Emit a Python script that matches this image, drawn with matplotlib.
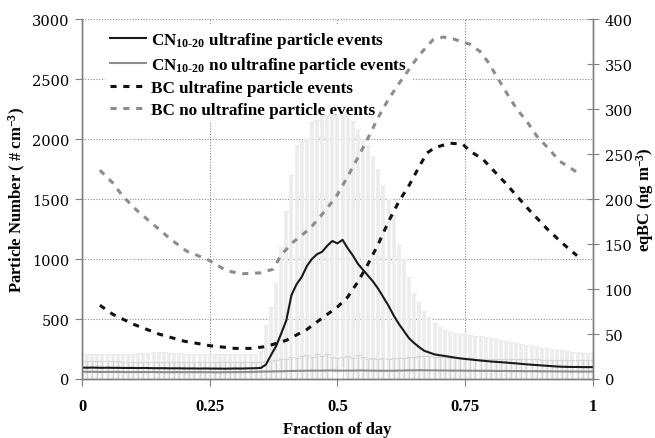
import matplotlib
matplotlib.use("Agg")
import matplotlib.pyplot as plt
import numpy as np

plt.rcParams["font.family"] = "serif"
plt.rcParams["font.serif"] = ["Liberation Serif"]
plt.rcParams["mathtext.fontset"] = "custom"
plt.rcParams["mathtext.rm"] = "Liberation Serif:bold"
plt.rcParams["mathtext.bf"] = "Liberation Serif:bold"
plt.rcParams["mathtext.it"] = "Liberation Serif:bold:italic"

# fraction of day, 0.01 steps
frac_day = np.arange(101) / 100

# CN10-20, days with ultrafine particle events (mean and upper edge of error bar)
cn_event = [
    95, 94, 95, 94, 93, 94, 93, 93, 92, 92, 92,
    91, 92, 91, 90, 90, 90, 89, 89, 89, 88,
    88, 88, 87, 88, 87, 87, 87, 86, 87, 88,
    87, 88, 89, 90, 92, 120, 200, 275, 380, 490,
    700, 790, 850, 940, 1000, 1040, 1060, 1110, 1150, 1130,
    1160, 1090, 1030, 960, 910, 860, 810, 750, 680, 610,
    530, 460, 400, 340, 300, 265, 235, 220, 205, 198,
    192, 185, 178, 172, 167, 163, 158, 154, 150, 146,
    143, 140, 137, 133, 130, 126, 122, 119, 116, 113,
    110, 107, 104, 102, 101, 100, 100, 99, 99, 99,
]
cn_event_top = [
    210, 210, 212, 210, 208, 208, 207, 207, 208, 210, 212,
    213, 215, 218, 222, 225, 222, 218, 215, 213, 212,
    210, 210, 208, 208, 207, 206, 205, 205, 205, 206,
    207, 208, 208, 210, 230, 450, 600, 800, 1100, 1400,
    1700, 1950, 1980, 2000, 2150, 2160, 2200, 2200, 2210, 2200,
    2210, 2190, 2150, 2080, 2000, 1950, 1850, 1750, 1620, 1500,
    1370, 1120, 1000, 850, 720, 640, 570, 520, 470, 430,
    410, 395, 385, 378, 372, 366, 360, 355, 350, 342,
    335, 328, 320, 310, 300, 292, 283, 275, 268, 262,
    257, 250, 244, 238, 232, 227, 223, 220, 218, 215,
]

# CN10-20, days without ultrafine particle events
cn_none = [
    60, 60, 60, 59, 59, 59, 59, 59, 58, 58, 58,
    58, 58, 58, 58, 57, 57, 57, 57, 57, 57,
    57, 57, 57, 57, 57, 56, 56, 57, 57, 57,
    58, 58, 59, 60, 61, 62, 63, 64, 65, 66,
    67, 68, 68, 69, 70, 70, 70, 71, 71, 70,
    70, 70, 70, 71, 71, 70, 70, 69, 69, 69,
    69, 70, 71, 72, 72, 73, 73, 72, 72, 71,
    71, 70, 70, 70, 69, 69, 69, 68, 68, 68,
    67, 67, 67, 66, 66, 66, 65, 65, 65, 64,
    64, 64, 63, 63, 63, 62, 62, 62, 62, 62,
]
cn_none_top = [
    150, 150, 148, 148, 147, 147, 146, 146, 145, 145, 145,
    144, 144, 143, 143, 142, 142, 142, 141, 141, 140,
    140, 140, 139, 139, 139, 138, 138, 138, 138, 139,
    140, 141, 142, 143, 145, 148, 150, 160, 165, 170,
    180, 175, 190, 200, 185, 210, 195, 205, 185, 175,
    180, 190, 175, 200, 185, 170, 175, 170, 172, 170,
    172, 175, 178, 182, 185, 190, 192, 188, 185, 182,
    180, 178, 176, 175, 174, 172, 170, 170, 168, 168,
    167, 166, 166, 165, 165, 164, 164, 163, 163, 162,
    162, 161, 161, 160, 160, 160, 159, 159, 158, 158,
]

# eqBC, ultrafine particle event days
bc_event_x = [0.035, 0.06, 0.10, 0.15, 0.20, 0.231, 0.25, 0.30, 0.33, 0.36,
              0.40, 0.44, 0.466, 0.50, 0.52, 0.54, 0.56, 0.58, 0.60, 0.62,
              0.64, 0.66, 0.675, 0.69, 0.72, 0.745, 0.76, 0.785, 0.81, 0.83,
              0.85, 0.875, 0.91, 0.94, 0.969]
bc_event = [82, 72, 61, 50, 42, 39, 37, 34, 34, 36,
            43, 55, 66, 80, 91, 108, 128, 150, 175, 197,
            215, 236, 251, 257, 262, 261, 253, 244, 229, 217,
            204, 188, 167, 151, 137]

# eqBC, no event days
bc_none_x = [0.035, 0.06, 0.08, 0.108, 0.139, 0.172, 0.205, 0.245, 0.284, 0.315,
             0.35, 0.374, 0.39, 0.413, 0.446, 0.479, 0.50, 0.52, 0.54, 0.56,
             0.58, 0.60, 0.62, 0.64, 0.66, 0.687, 0.707, 0.726, 0.759, 0.779,
             0.795, 0.812, 0.832, 0.851, 0.871, 0.89, 0.91, 0.935, 0.971]
bc_none = [232, 218, 203, 187, 172, 156, 142, 133, 120, 117,
           118, 122, 138, 152, 167, 189, 205, 225, 246, 268,
           291, 311, 328, 344, 360, 377, 380, 378, 372, 364,
           352, 336, 317, 300, 286, 270, 258, 242, 229]

labels = [
    r"CN$_{\text{10-20}}$ ultrafine particle events",
    r"CN$_{\text{10-20}}$ no ultrafine particle events",
    "BC ultrafine particle events",
    "BC no ultrafine particle events",
]

AX_GRAY = "#808080"
LINE_GRAY = "#8c8c8c"


def main() -> None:
    fig = plt.figure(figsize=(6.55, 4.39), dpi=100)
    ax = fig.add_axes([0.1252, 0.1344, 0.78, 0.82])
    ax2 = ax.twinx()

    cn_ev = np.array(cn_event)
    cn_no = np.array(cn_none)
    ax.errorbar(frac_day, cn_ev, yerr=np.array(cn_event_top) - cn_ev, fmt="none",
                ecolor="#ececec", elinewidth=2.6, capsize=2, capthick=0.8, zorder=1)
    ax.errorbar(frac_day, cn_no, yerr=np.array(cn_none_top) - cn_no, fmt="none",
                ecolor="#d6d6d6", elinewidth=0.8, capsize=2, capthick=0.8, zorder=1.1)
    h1, = ax.plot(frac_day, cn_ev, color="#1a1a1a", lw=1.5, zorder=3)
    h2, = ax.plot(frac_day, cn_no, color=LINE_GRAY, lw=1.5, zorder=3)

    h3, = ax2.plot(bc_event_x, bc_event, color="#111111", lw=2.2,
                   linestyle=(0, (2.0, 2.2)))
    h4, = ax2.plot(bc_none_x, bc_none, color=LINE_GRAY, lw=2.2,
                   linestyle=(0, (2.0, 2.2)))

    ax.set_xlim(0, 1)
    ax.set_ylim(0, 3000)
    ax2.set_ylim(0, 400)
    ax.set_xticks([0, 0.25, 0.5, 0.75, 1])
    ax.set_xticklabels(["0", "0.25", "0.5", "0.75", "1"], fontweight="bold", fontsize=12)
    ax.set_yticks(range(0, 3001, 500))
    ax2.set_yticks(range(0, 401, 50))
    for lab in ax.get_yticklabels() + ax2.get_yticklabels():
        lab.set_family("DejaVu Serif")
        lab.set_fontsize(10.5)

    ax.set_axisbelow(True)
    ax.grid(True, color="#8a8a8a", linestyle=(0, (1, 1.5)), linewidth=0.8)

    for a in (ax, ax2):
        a.spines["top"].set_visible(False)
        for s in ("left", "right", "bottom"):
            a.spines[s].set_color(AX_GRAY)
            a.spines[s].set_linewidth(1.0)
    ax.tick_params(axis="y", direction="out", length=5, color=AX_GRAY, pad=4)
    ax.tick_params(axis="x", direction="out", length=5, color=AX_GRAY, pad=9)
    ax2.tick_params(axis="y", direction="inout", length=9, color=AX_GRAY, pad=4)

    ax.set_xlabel("Fraction of day", fontweight="bold", fontsize=12, labelpad=5)
    ax.set_ylabel(r"Particle Number ( # cm$^{\mathbf{-3}}$)", fontweight="bold", fontsize=12,
                  labelpad=3)
    ax2.set_ylabel(r"eqBC (ng m$^{\mathbf{-3}}$)", fontweight="bold", fontsize=12, labelpad=1)

    # legend sits on the lower axes, above the grid but under the error bars
    leg = ax.legend([h1, h2, h3, h4], labels, loc="upper left",
                    bbox_to_anchor=(0.045, 0.985), borderaxespad=0,
                    prop={"weight": "bold", "size": 12.3},
                    frameon=True, fancybox=False, handlelength=2.1,
                    handletextpad=0.3, labelspacing=0.32, borderpad=0.3)
    leg.get_frame().set_facecolor("white")
    leg.get_frame().set_edgecolor("none")
    leg.get_frame().set_alpha(1)
    leg.set_zorder(0.8)

    fig.savefig("out.png", dpi=100)
    plt.close(fig)


if __name__ == "__main__":
    main()
